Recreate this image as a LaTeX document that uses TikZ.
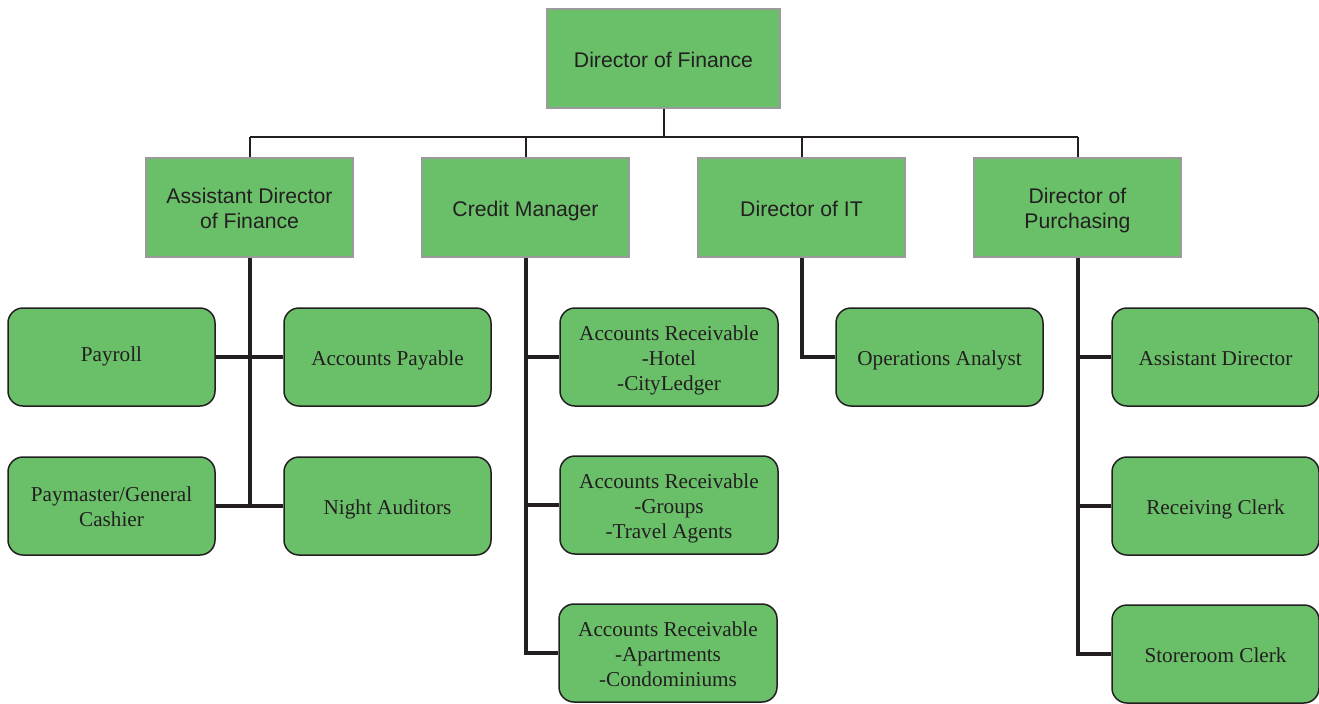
\documentclass[tikz,border=0pt]{standalone}
\usepackage{fontspec}
\setmainfont{Liberation Serif}
\setsansfont{Liberation Sans}
\definecolor{boxgreen}{HTML}{6ABF69}
\definecolor{boxgray}{HTML}{9A9A9A}
\definecolor{txt}{HTML}{231F20}
\newcommand{\mlines}[1]{\smash{\begin{tabular}{@{}c@{}}#1\end{tabular}}}
\tikzset{
  struts/.style={execute at begin node={\rule{0pt}{11.6pt}},
    execute at end node={\rule[-3pt]{0pt}{3pt}}},
  headbox/.style={rectangle, fill=boxgreen, draw=boxgray, line width=1pt,
    minimum width=103.5pt, minimum height=49.5pt, inner sep=0pt,
    text=txt, font=\sffamily\fontsize{10.6}{12.5}\selectfont, struts},
  subbox/.style={rectangle, rounded corners=7.5pt, fill=boxgreen, draw=txt, line width=0.75pt,
    minimum width=103.5pt, minimum height=49pt, inner sep=0pt,
    text=txt, font=\fontsize{10.6}{12.5}\selectfont, struts},
  wide/.style={minimum width=109pt},
  thinline/.style={draw=txt, line width=1pt},
  thickline/.style={draw=txt, line width=2pt},
}
\begin{document}
\begin{tikzpicture}[x=0.5pt, y=-0.5pt]
\useasboundingbox (0,0) rectangle (1319,703);
% level 1
\node[headbox, minimum width=116.5pt] (dof) at (663.5,58.5) {Director of Finance};
% level 2
\node[headbox] (adf) at (249.5,207.5) {\mlines{Assistant Director\\of Finance}};
\node[headbox] (cm)  at (525.5,207.5) {Credit Manager};
\node[headbox] (dit) at (801.5,207.5) {Director of IT};
\node[headbox] (dp)  at (1077.5,207.5) {\mlines{Director of\\Purchasing}};
% level 3 - finance
\node[subbox, execute at end node={\rule[-7pt]{0pt}{7pt}}] (pay) at (111.5,357) {Payroll};
\node[subbox] (ap)    at (387.5,357) {Accounts Payable};
\node[subbox] (pm)    at (111.5,506) {\mlines{Paymaster/General\\Cashier}};
\node[subbox] (night) at (387.5,506) {Night Auditors};
% credit
\node[subbox, wide] (ar1) at (669,357) {\mlines{Accounts Receivable\\-Hotel\\-CityLedger}};
\node[subbox, wide] (ar2) at (669,505) {\mlines{Accounts Receivable\\-Groups\\-Travel Agents}};
\node[subbox, wide] (ar3) at (668,653) {\mlines{Accounts Receivable\\-Apartments\\-Condominiums}};
% IT
\node[subbox] (oa) at (939.5,357) {Operations Analyst};
% purchasing
\node[subbox] (ad) at (1215.5,357) {Assistant Director};
\node[subbox] (rc) at (1215.5,506) {Receiving Clerk};
\node[subbox] (sc) at (1215.5,654) {Storeroom Clerk};
% bus
\coordinate (bus) at (0,137);
\draw[thinline] (dof.south) -- (dof.south |- bus);
\draw[thinline] (adf.north |- bus) -- (dp.north |- bus);
\foreach \n in {adf,cm,dit,dp} \draw[thinline] (\n.north |- bus) -- (\n.north);
% finance trunk
\draw[thickline] (adf.south) -- (adf.south |- night.west);
\draw[thickline] (pay.east) -- (ap.west);
\draw[thickline] (pm.east) -- (night.west);
% credit trunk
\draw[thickline] (cm.south) |- (ar3.west);
\draw[thickline] (cm.south |- ar1.west) -- (ar1.west);
\draw[thickline] (cm.south |- ar2.west) -- (ar2.west);
% IT
\draw[thickline] (dit.south) |- (oa.west);
% purchasing
\draw[thickline] (dp.south) |- (sc.west);
\draw[thickline] (dp.south |- ad.west) -- (ad.west);
\draw[thickline] (dp.south |- rc.west) -- (rc.west);
\end{tikzpicture}
\end{document}
